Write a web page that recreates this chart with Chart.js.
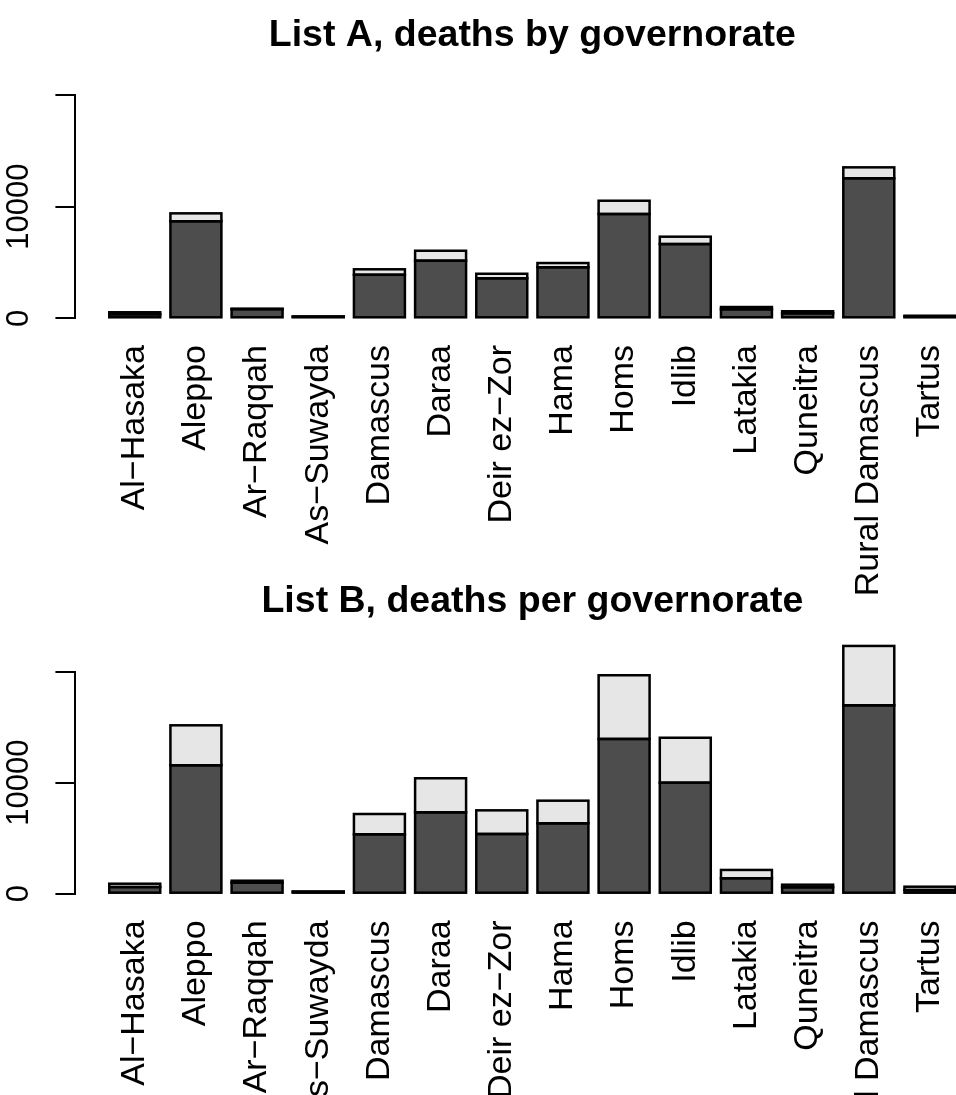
<!DOCTYPE html>
<html>
<head>
<meta charset="utf-8">
<title>Deaths by governorate</title>
<script src="https://cdn.jsdelivr.net/npm/chart.js@4/dist/chart.umd.min.js"></script>
<style>
  html, body { margin: 0; padding: 0; background: #ffffff; width: 956px; height: 1095px; overflow: hidden; }
  canvas { position: absolute; left: 0; }
  #chartA { top: 0; }
  #chartB { top: 547px; }
</style>
</head>
<body>
<canvas id="chartA" width="1000" height="620" style="width:1000px;height:620px"></canvas>
<canvas id="chartB" width="1000" height="620" style="width:1000px;height:620px"></canvas>
<script>
// Governorate names (hyphens set as the minus glyph used in the axis labels)
const governorates = [
  'Al\u2212Hasaka', 'Aleppo', 'Ar\u2212Raqqah', 'As\u2212Suwayda', 'Damascus', 'Daraa',
  'Deir ez\u2212Zor', 'Hama', 'Homs', 'Idlib', 'Latakia', 'Quneitra', 'Rural Damascus', 'Tartus'
];

// List A: lower (dark) and upper (light) segment of each stacked bar
const listALower = [360, 8690, 820, 140, 3900, 5160, 3580, 4570, 9340, 6650, 810, 450, 12540, 170];
const listAUpper = [180, 710, 40, 30, 490, 890, 410, 380, 1190, 660, 200, 180, 980, 60];

// List B: lower (dark) and upper (light) segment of each stacked bar
const listBLower = [600, 11570, 990, 170, 5350, 7330, 5380, 6340, 13940, 10000, 1390, 580, 16970, 330];
const listBUpper = [300, 3600, 180, 30, 1830, 3070, 2130, 2040, 5740, 4050, 750, 230, 5350, 300];

// Value axis ticks and the labels printed beside them
const yTickValues = [0, 5000, 10000, 15000, 20000];
const yTickLabels = ['0', '', '10000', '', ''];

const titles = ['List A, deaths by governorate', 'List B, deaths per governorate'];

const DARK = '#4D4D4D';
const LIGHT = '#E6E6E6';
const FONT = "'Liberation Sans', Arial, Helvetica, sans-serif";

Chart.defaults.font.family = FONT;
Chart.defaults.color = '#000000';

// Bar layout in bar-width units: a 0.2 gap before every bar, range widened by 4% per side
const SPACE = 0.2;
const mids = governorates.map((_, i) => SPACE + 0.5 + i * (1 + SPACE));
const xLo = SPACE;
const xHi = governorates.length * (1 + SPACE);
const xExt = 0.04 * (xHi - xLo);

// Black outline stroked centred on every bar edge, after the fills are drawn
const barOutline = {
  id: 'barOutline',
  afterDatasetsDraw(chart, args, opts) {
    const ctx = chart.ctx;
    ctx.save();
    ctx.strokeStyle = opts.color;
    ctx.lineWidth = opts.width;
    chart.data.datasets.forEach((ds, di) => {
      chart.getDatasetMeta(di).data.forEach((bar) => {
        const { x, y, base, width } = bar.getProps(['x', 'y', 'base', 'width'], true);
        ctx.strokeRect(x - width / 2, Math.min(y, base), width, Math.abs(base - y));
      });
    });
    ctx.restore();
  }
};

function makeChart(canvasId, title, lower, upper, geom) {
  const seg = (vals, color) => ({
    data: vals.map((v, i) => ({ x: mids[i], y: v })),
    backgroundColor: color,
    borderWidth: 0,
    inflateAmount: 0,
    categoryPercentage: 1,
    barPercentage: 1 / (1 + SPACE),
    clip: false
  });

  return new Chart(document.getElementById(canvasId), {
    type: 'bar',
    data: { datasets: [seg(lower, DARK), seg(upper, LIGHT)] },
    plugins: [barOutline],
    options: {
      responsive: false,
      animation: false,
      events: [],
      layout: { padding: { left: 0, right: 10.7, top: 0, bottom: 0 } },
      plugins: {
        legend: { display: false },
        tooltip: { enabled: false },
        barOutline: { color: '#000000', width: 2.5 },
        title: {
          display: true,
          text: title,
          fullSize: false,
          align: 'center',
          color: '#000000',
          font: { family: FONT, size: 37.5, weight: 'bold', lineHeight: 1.2 },
          padding: { top: geom.titleTop, bottom: geom.titleBottom }
        }
      },
      scales: {
        x: {
          type: 'linear',
          stacked: true,
          offset: false,
          bounds: 'data',
          min: xLo - xExt,
          max: xHi + xExt,
          grid: { display: false, drawTicks: false },
          border: { display: false },
          afterBuildTicks: (scale) => { scale.ticks = mids.map(v => ({ value: v })); },
          afterFit: (scale) => { scale.height = geom.xAxisHeight; },
          ticks: {
            autoSkip: false,
            minRotation: 90,
            maxRotation: 90,
            padding: geom.labelGap,
            color: '#000000',
            font: { family: FONT, size: 34 },
            callback: (value, index) => governorates[index]
          }
        },
        y: {
          type: 'linear',
          stacked: true,
          bounds: 'data',
          min: yTickValues[0],
          max: yTickValues[yTickValues.length - 1],
          afterBuildTicks: (scale) => { scale.ticks = yTickValues.map(v => ({ value: v })); },
          afterFit: (scale) => { scale.width = 75.4; },
          grid: {
            drawOnChartArea: false,
            drawTicks: true,
            tickLength: 20,
            color: '#000000',
            lineWidth: 2
          },
          border: { display: true, color: '#000000', width: 2 },
          ticks: {
            minRotation: 90,
            maxRotation: 90,
            crossAlign: 'center',
            padding: -7.2,
            color: '#000000',
            font: { family: FONT, size: 31 },
            callback: (value, index) => yTickLabels[index]
          }
        }
      }
    }
  });
}

makeChart('chartA', titles[0], listALower, listAUpper,
  { titleTop: 13.5, titleBottom: 36.5, xAxisHeight: 301.7, labelGap: 26.7 });
makeChart('chartB', titles[1], listBLower, listBUpper,
  { titleTop: 32.5, titleBottom: 47.2, xAxisHeight: 273.3, labelGap: 26.7 });
</script>
</body>
</html>
